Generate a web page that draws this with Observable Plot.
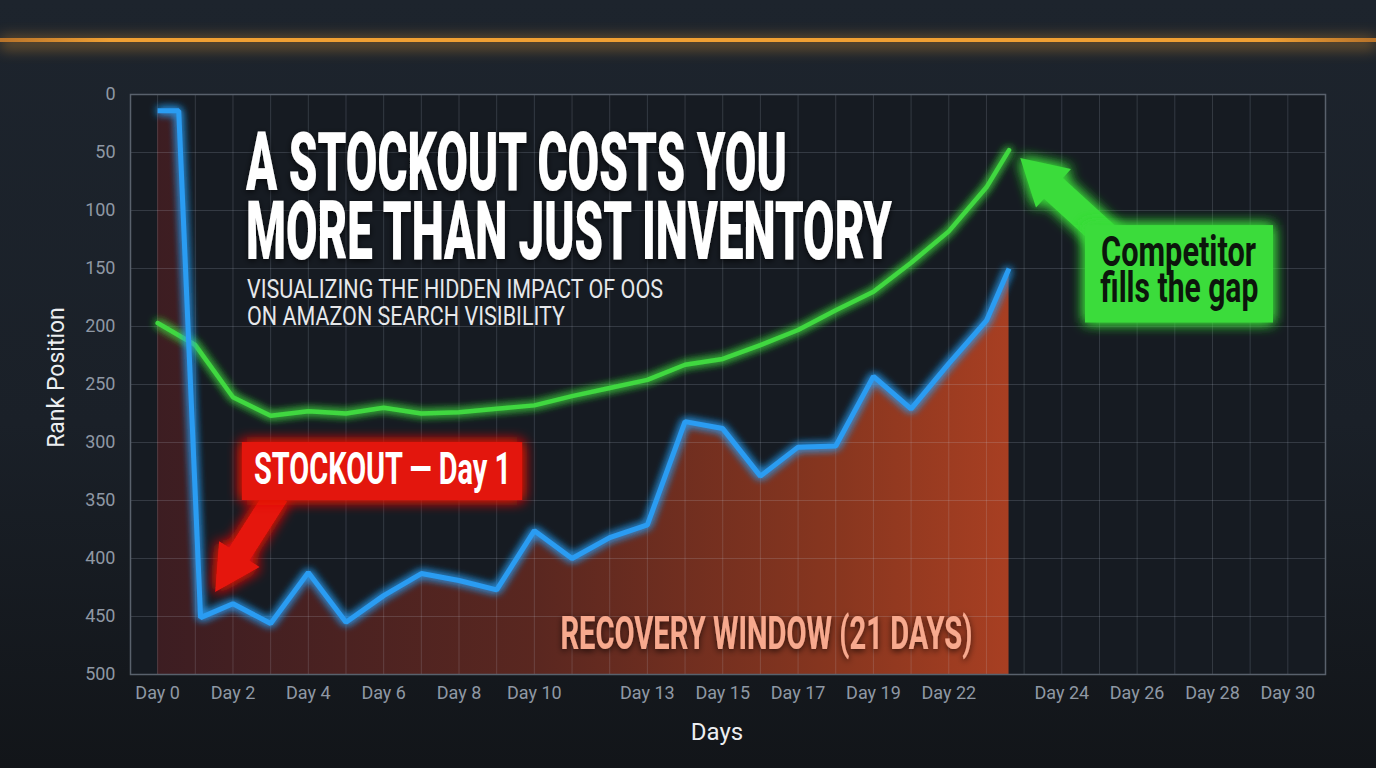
<!DOCTYPE html>
<html>
<head>
<meta charset="utf-8">
<script src="https://cdn.jsdelivr.net/npm/d3@7"></script>
<script src="https://cdn.jsdelivr.net/npm/@observablehq/plot@0.6"></script>
<style>
  html, body { margin: 0; padding: 0; background: #1a2028; overflow: hidden; }
  #chart { width: 1376px; height: 768px; }
  #chart svg { display: block; }
</style>
</head>
<body>
<div id="chart"></div>
<script>
// ---------- data ----------
const blueDays  = [0, 0.56, 1.14, 2, 3, 4, 5, 6, 7, 8, 9, 10, 11, 12, 13, 14, 15, 16, 17, 18, 19, 20, 21, 22, 22.6];
const blueRank  = [14, 14, 451, 439, 456, 412, 455, 432, 413, 419, 427, 376, 400, 382, 371, 282, 288, 329, 304, 303, 243, 271, 232, 195, 150];
const greenDays = [0, 1, 2, 3, 4, 5, 6, 7, 8, 9, 10, 11, 12, 13, 14, 15, 16, 17, 18, 19, 20, 21, 22, 22.6];
const greenRank = [197, 216, 261, 277, 273, 275, 270, 275, 274, 271, 268, 260, 253, 246, 233, 228, 216, 203, 186, 170, 145, 118, 80, 48];
const tickDays   = [0, 2, 4, 6, 8, 10, 13, 15, 17, 19, 21, 24, 26, 28, 30];
const tickLabels = ["Day 0", "Day 2", "Day 4", "Day 6", "Day 8", "Day 10", "Day 13", "Day 15", "Day 17", "Day 19", "Day 22", "Day 24", "Day 26", "Day 28", "Day 30"];
const rankTicks  = [0, 50, 100, 150, 200, 250, 300, 350, 400, 450, 500];
const gridDays   = [0, 1, 2, 3, 4, 5, 6, 7, 8, 9, 10, 11, 12, 13, 14, 15, 16, 17, 18, 19, 20, 21, 22, 23, 24, 25, 26, 27, 28, 29, 30, 31];

const titleLines    = ["A STOCKOUT COSTS YOU", "MORE THAN JUST INVENTORY"];
const subtitleLines = ["VISUALIZING THE HIDDEN IMPACT OF OOS", "ON AMAZON SEARCH VISIBILITY"];

// ---------- annotations (in data coordinates) ----------
const stockoutBox   = {x1: 2.25, x2: 9.69, y1: 300, y2: 350};
const competitorBox = {x1: 24.63, x2: 29.62, y1: 113, y2: 197};
const stockoutLabel = {text: "STOCKOUT — Day 1", day: 5.97, rank: 323.7};
const competitorLines = [
  {text: "Competitor", day: 27.1, rank: 136.2},
  {text: "fills the gap", day: 27.12, rank: 167.2}
];
const recoveryLabel = {text: "RECOVERY WINDOW (21 DAYS)", day: 16.16, rank: 465.5};
const redArrow   = {tipDay: 1.54, tipRank: 429.3, tailDay: 3.18, tailRank: 345.7, head: 45, headHalf: 24, shaftHalf: 12, fill: "#e5160f"};
const greenArrow = {tipDay: 22.91, tipRank: 55.2, tailDay: 25.3, tailRank: 125.9, head: 45, headHalf: 26, shaftHalf: 14, fill: "#3bdc3b"};

const FONT = "Roboto, 'Liberation Sans', 'DejaVu Sans', sans-serif";

const blue  = blueDays.map((day, i) => ({day, rank: blueRank[i]}));
const green = greenDays.map((day, i) => ({day, rank: greenRank[i]}));
const labelByDay = new Map(tickDays.map((d, i) => [d, tickLabels[i]]));

const plot = Plot.plot({
  width: 1376,
  height: 768,
  marginLeft: 130,
  marginRight: 51,
  marginTop: 94,
  marginBottom: 94,
  style: {background: "none", color: "#8f98a4", fontFamily: FONT, overflow: "visible"},
  x: {domain: [-0.72, 31]},
  y: {domain: [0, 500], reverse: true},
  marks: [
    Plot.frame({fill: "#161b22", stroke: "none"}),
    Plot.areaY(blue, {x: "day", y1: () => 500, y2: "rank", fill: "url(#recoveryGrad)"}),
    Plot.ruleX(gridDays, {stroke: "#c9d6e8", strokeOpacity: 0.17}),
    Plot.ruleY(rankTicks, {stroke: "#c9d6e8", strokeOpacity: 0.17}),
    Plot.frame({stroke: "#59616c", strokeWidth: 1.5}),
    Plot.axisX({ticks: tickDays, tickFormat: d => labelByDay.get(d), tickSize: 0, tickPadding: 12, fontSize: 18, label: null}),
    Plot.axisY({ticks: rankTicks, tickSize: 0, tickPadding: 15, fontSize: 18, label: null}),
    Plot.text(["Rank Position"], {text: d => d, frameAnchor: "left", textAnchor: "middle", lineAnchor: "middle", dx: -74, dy: -7, rotate: -90, fontSize: 23, fill: "#eceef1"}),
    Plot.text(["Days"], {text: d => d, frameAnchor: "bottom", textAnchor: "middle", lineAnchor: "middle", dy: 58, dx: -11, fontSize: 24, fill: "#eceef1"}),
    Plot.line(green, {x: "day", y: "rank", stroke: "#3fd83f", strokeWidth: 4.5, strokeLinejoin: "miter"}),
    Plot.line(blue, {x: "day", y: "rank", stroke: "#2b9cf2", strokeWidth: 5, strokeLinejoin: "miter", strokeLinecap: "butt"}),
    Plot.rect([stockoutBox], {x1: "x1", x2: "x2", y1: "y1", y2: "y2", fill: "#e3150f"}),
    Plot.rect([competitorBox], {x1: "x1", x2: "x2", y1: "y1", y2: "y2", fill: "#3bdc3b"}),
    Plot.text([stockoutLabel], {x: "day", y: "rank", text: "text", fontSize: 44, fontWeight: 700, fill: "#ffffff"}),
    Plot.text(competitorLines, {x: "day", y: "rank", text: "text", fontSize: 42, fontWeight: 700, fill: "#0c160c"}),
    Plot.text([recoveryLabel], {x: "day", y: "rank", text: "text", fontSize: 46, fontWeight: 700, fill: "#f7a98e"})
  ]
});

document.getElementById("chart").appendChild(plot);

// ---------- decoration via the plot's own svg ----------
const svg = d3.select(plot);
const bg = svg.insert("g", ":first-child");
const defs = svg.insert("defs", ":first-child");

function linGrad(id, attrs, stops) {
  const g = defs.append("linearGradient").attr("id", id).attr("gradientUnits", "userSpaceOnUse");
  Object.entries(attrs).forEach(([k, v]) => g.attr(k, v));
  stops.forEach(([o, c, a]) => g.append("stop").attr("offset", o).attr("stop-color", c).attr("stop-opacity", a ?? 1));
}
linGrad("recoveryGrad", {x1: 150, x2: 1010, y1: 0, y2: 0},
  [[0, "#3c1d22"], [0.45, "#5a2720"], [0.8, "#88361f"], [1, "#a83f22"]]);
linGrad("bgGrad", {x1: 0, x2: 0, y1: 0, y2: 768},
  [[0, "#1d242d"], [0.55, "#1a2028"], [1, "#121519"]]);
linGrad("orangeGrad", {x1: 0, x2: 1376, y1: 0, y2: 0},
  [[0, "#b8732a"], [0.08, "#f0a033"], [0.92, "#f0a033"], [1, "#b8732a"]]);

function glow(id, std) {
  const f = defs.append("filter").attr("id", id).attr("filterUnits", "userSpaceOnUse")
    .attr("x", 0).attr("y", 0).attr("width", 1376).attr("height", 768);
  f.append("feGaussianBlur").attr("in", "SourceGraphic").attr("stdDeviation", std).attr("result", "b");
  const m = f.append("feMerge");
  m.append("feMergeNode").attr("in", "b");
  m.append("feMergeNode").attr("in", "b");
  m.append("feMergeNode").attr("in", "SourceGraphic");
}
glow("glowLine", 4);
glow("glowBox", 7);
{
  const f = defs.append("filter").attr("id", "shadow").attr("filterUnits", "userSpaceOnUse")
    .attr("x", 0).attr("y", 0).attr("width", 1376).attr("height", 768);
  f.append("feDropShadow").attr("dx", 0).attr("dy", 2).attr("stdDeviation", 3)
    .attr("flood-color", "#000").attr("flood-opacity", 0.7);
}
{
  const f = defs.append("filter").attr("id", "blurOrange").attr("filterUnits", "userSpaceOnUse")
    .attr("x", 0).attr("y", 0).attr("width", 1376).attr("height", 768);
  f.append("feGaussianBlur").attr("stdDeviation", 7);
}

// page background + orange rule
bg.append("rect").attr("width", 1376).attr("height", 768).attr("fill", "url(#bgGrad)");
bg.append("rect").attr("x", 0).attr("y", 36).attr("width", 1376).attr("height", 14)
  .attr("fill", "#f0a033").attr("opacity", 0.35).attr("filter", "url(#blurOrange)");
bg.append("rect").attr("x", 0).attr("y", 38).attr("width", 1376).attr("height", 4).attr("fill", "url(#orangeGrad)");

// glows
svg.selectAll('g[aria-label="line"]').attr("filter", "url(#glowLine)");
svg.selectAll('g[aria-label="rect"]').attr("filter", "url(#glowBox)");

// condensed annotation text via textLength
const textLengths = new Map([
  ["STOCKOUT — Day 1", 257],
  ["Competitor", 155],
  ["fills the gap", 158],
  ["RECOVERY WINDOW (21 DAYS)", 412]
]);
svg.selectAll("text").each(function () {
  const L = textLengths.get(this.textContent);
  if (L) {
    d3.select(this).attr("textLength", L).attr("lengthAdjust", "spacingAndGlyphs");
    if (this.textContent.startsWith("RECOVERY")) d3.select(this.parentNode).attr("filter", "url(#shadow)");
  }
});

// arrows built from the plot's scales
const xS = plot.scale("x"), yS = plot.scale("y");
function arrowPoints(a) {
  const T = [xS.apply(a.tipDay), yS.apply(a.tipRank)];
  const S = [xS.apply(a.tailDay), yS.apply(a.tailRank)];
  const dx = T[0] - S[0], dy = T[1] - S[1], len = Math.hypot(dx, dy);
  const u = [dx / len, dy / len], n = [-u[1], u[0]];
  const B = [T[0] - u[0] * a.head, T[1] - u[1] * a.head];
  const off = (p, k) => [p[0] + n[0] * k, p[1] + n[1] * k];
  return [off(S, a.shaftHalf), off(B, a.shaftHalf), off(B, a.headHalf), T,
          off(B, -a.headHalf), off(B, -a.shaftHalf), off(S, -a.shaftHalf)];
}
const firstRect = plot.querySelector('g[aria-label="rect"]');
const arrowG = d3.create("svg:g").attr("filter", "url(#glowBox)");
[redArrow, greenArrow].forEach(a => {
  arrowG.append("polygon").attr("points", arrowPoints(a).map(p => p.join(",")).join(" ")).attr("fill", a.fill);
});
plot.insertBefore(arrowG.node(), firstRect);

// title + subtitle
const titleG = svg.append("g").attr("font-family", FONT).attr("text-anchor", "start");
const titleSpec = [
  {t: titleLines[0], y: 190, L: 541},
  {t: titleLines[1], y: 259, L: 646}
];
titleSpec.forEach(s => {
  titleG.append("text").attr("x", 246).attr("y", s.y).text(s.t)
    .attr("font-size", 81).attr("font-weight", 900).attr("fill", "#ffffff")
    .attr("textLength", s.L).attr("lengthAdjust", "spacingAndGlyphs").attr("filter", "url(#shadow)");
});
const subSpec = [
  {t: subtitleLines[0], y: 298, L: 416},
  {t: subtitleLines[1], y: 325, L: 318}
];
subSpec.forEach(s => {
  titleG.append("text").attr("x", 247).attr("y", s.y).text(s.t)
    .attr("font-size", 25).attr("font-weight", 400).attr("fill", "#e6e8eb")
    .attr("textLength", s.L).attr("lengthAdjust", "spacingAndGlyphs");
});
</script>
</body>
</html>
